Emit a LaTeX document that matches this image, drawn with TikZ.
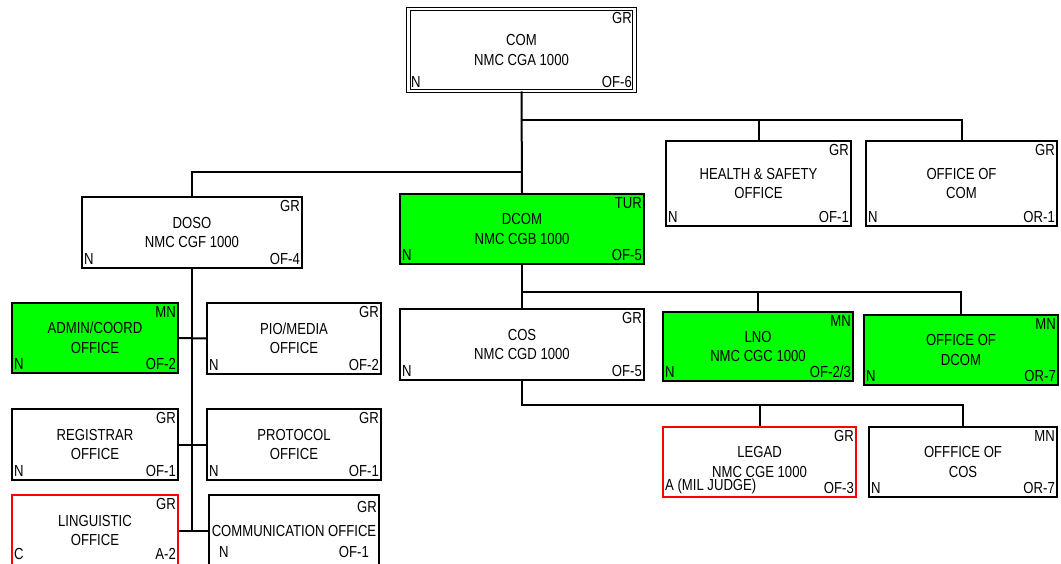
\documentclass[tikz,border=0pt]{standalone}
\usepackage{fontspec}
\setmainfont[FakeStretch=0.82]{Liberation Sans}
\usepackage{tikz}
\usetikzlibrary{positioning}
\definecolor{postgreen}{RGB}{0,255,0}
\definecolor{postred}{RGB}{255,0,0}

\begin{document}
\begin{tikzpicture}[x=1pt, y=-1pt,
  every node/.style={font=\fontsize{16}{19.5}\selectfont},
  post/.style={draw, line width=2pt, fill=white, align=center, inner sep=0pt},
  dims/.style 2 args={minimum width=#1pt, minimum height=#2pt},
  nat/.style={fill=postgreen},
  vac/.style={draw=postred},
  tagne/.style={anchor=north east, inner xsep=3pt, inner ysep=4pt},
  tagsw/.style={anchor=south west, inner xsep=3pt, inner ysep=4pt},
  tagse/.style={anchor=south east, inner xsep=3pt, inner ysep=4pt},
  tags/.style n args={3}{label={[tagne]north east:#1},
    label={[tagsw]south west:#2}, label={[tagse]south east:#3}},
  link/.style={line width=2pt}]
\useasboundingbox (0,0) rectangle (1061,564);
\clip (0,0) rectangle (1061,564);

% command level
\node[post, double, double distance=2.5pt, line width=1pt, dims={226}{82},
  tags={GR}{N}{OF-6}] (com) at (521.5,50) {COM\\NMC CGA 1000};
\node[post, dims={185}{85}, tags={GR}{N}{OF-1}] (health) at (758.5,183.5)
  {HEALTH \& SAFETY\\OFFICE};
\node[post, dims={191}{85}, tags={GR}{N}{OR-1}] (offcom) at (961.5,183.5)
  {OFFICE OF\\COM};
\node[post, dims={220}{71}, tags={GR}{N}{OF-4}] (doso) at (192,232.5)
  {DOSO\\NMC CGF 1000};
\node[post, nat, dims={244}{70}, tags={TUR}{N}{OF-5}] (dcom) at (522,229)
  {DCOM\\NMC CGB 1000};

% dcom branch
\node[post, dims={244}{71}, tags={GR}{N}{OF-5}] (cos) at (522,344.5)
  {COS\\NMC CGD 1000};
\node[post, nat, dims={190}{69}, tags={MN}{N}{OF-2/3}] (lno) at (758,346.5)
  {LNO\\NMC CGC 1000};
\node[post, nat, dims={194}{70}, tags={MN}{N}{OR-7}] (offdcom) at (961,350)
  {OFFICE OF\\DCOM};
\node[post, vac, dims={193}{70}, tags={GR}{A (MIL JUDGE)}{OF-3}] (legad)
  at (759.5,462) {LEGAD\\NMC CGE 1000};
\node[post, dims={188}{70}, tags={MN}{N}{OR-7}] (offcos) at (963,462)
  {OFFFICE OF\\COS};

% doso branch
\node[post, nat, dims={166}{70}, tags={MN}{N}{OF-2}] (admin) at (95,338)
  {ADMIN/COORD\\OFFICE};
\node[post, dims={174}{71}, tags={GR}{N}{OF-2}] (pio) at (294,338.5)
  {PIO/MEDIA\\OFFICE};
\node[post, dims={166}{71}, tags={GR}{N}{OF-1}] (registrar) at (95,444.5)
  {REGISTRAR\\OFFICE};
\node[post, dims={174}{71}, tags={GR}{N}{OF-1}] (protocol) at (294,444.5)
  {PROTOCOL\\OFFICE};
\node[post, vac, dims={166}{71}, label={[tagne]north east:GR},
  label={[tagsw, yshift=3pt]south west:C},
  label={[tagse, yshift=3pt]south east:A-2}] (ling) at (95,530.5)
  {LINGUISTIC\\OFFICE};
\node[post, dims={170}{71}, label={[tagne, yshift=-3pt]north east:GR},
  label={[tagsw, xshift=8pt, yshift=5pt]south west:N},
  label={[tagse, xshift=-8pt, yshift=5pt]south east:OF-1}] (comm)
  at (294,530.5) {COMMUNICATION OFFICE};

% connectors
\coordinate (j0) at (522,120);
\coordinate (j1) at (522,172);
\coordinate (j2) at (522,292);
\coordinate (j3) at (522,405);
\coordinate (j4) at (192,530.5);
\draw[link] (com.south) -- (dcom.north);
\draw[link] (j0) -| (health.north);
\draw[link] (j0) -| (offcom.north);
\draw[link] (doso.north) |- (j1);
\draw[link] (dcom.south) -- (cos.north);
\draw[link] (j2) -| (lno.north);
\draw[link] (j2) -| (offdcom.north);
\draw[link] (cos.south) -- (j3) -| (offcos.north);
\draw[link] (j3) -| (legad.north);
\draw[link] (doso.south) -- (j4);
\draw[link] (admin.east) -- (pio.west);
\draw[link] (registrar.east) -- (protocol.west);
\draw[link] (ling.east) -- (comm.west);
\end{tikzpicture}
\end{document}
